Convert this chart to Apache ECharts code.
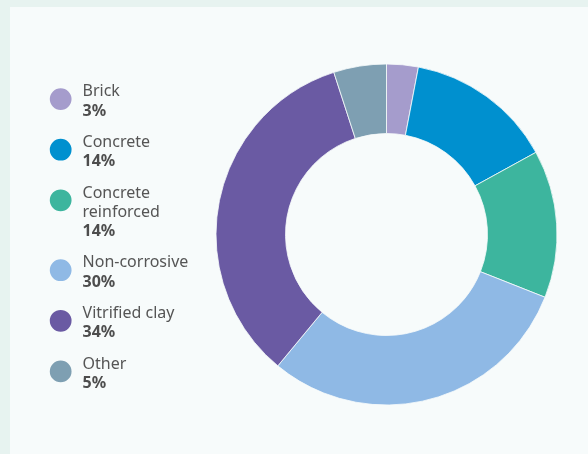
<!DOCTYPE html>
<html><head><meta charset="utf-8">
<script src="https://cdn.jsdelivr.net/npm/echarts@6/dist/echarts.min.js"></script>
<style>html,body{margin:0;padding:0;background:#e7f3f0;} #c{width:588px;height:454px;}</style>
</head><body><div id="c"></div>
<script>
const categories = ['Brick', 'Concrete', 'Concrete reinforced', 'Non-corrosive', 'Vitrified clay', 'Other'];
const shares = [3, 14, 14, 30, 34, 5];
const legendLabels = ['Brick', 'Concrete', 'Concrete\nreinforced', 'Non-corrosive', 'Vitrified clay', 'Other'];
const colors = ['#a59ccc', '#0090cf', '#3db59e', '#8fb9e5', '#6a5aa3', '#7e9fb2'];

const chart = echarts.init(document.getElementById('c'), null, {renderer: 'canvas'});
const LH = 19.3, GAP = 12, FIRST = 91.8, ICON_OFF = 7.3, ICON = 23.75;
const FONT = '"Noto Sans", "Open Sans", sans-serif';
const legends = [];
let y1 = FIRST;
categories.forEach((name, i) => {
  const n = legendLabels[i].split('\n').length + 1;
  const pt = (n - 1) * LH - 2 * ICON_OFF;
  const B = n * LH + pt;
  const iconY = y1 + ICON_OFF;
  legends.push({
    data: [{name: name, icon: 'circle'}],
    orient: 'vertical', left: 47.8, top: iconY - B / 2, padding: 0,
    itemWidth: ICON, itemHeight: ICON, selectedMode: false,
    formatter: () => legendLabels[i] + '\n{p|' + shares[i] + '%}',
    textStyle: {
      color: '#555555', fontSize: 16, fontFamily: FONT, lineHeight: LH,
      padding: [pt, 0, 0, 5], backgroundColor: 'transparent',
      rich: {p: {fontSize: 16, fontFamily: FONT, fontWeight: 'bold', color: '#4d4d4d', lineHeight: LH}}
    }
  });
  y1 += n * LH + GAP;
});

chart.setOption({
  animation: false,
  color: colors,
  graphic: [{type: 'rect', left: 10, top: 7, shape: {width: 578, height: 447}, style: {fill: '#f7fbfb'}, z: -10, silent: true}],
  legend: legends,
  series: [{
    type: 'pie', radius: [101, 170.5], center: [386.5, 234.5],
    startAngle: 90, clockwise: true,
    label: {show: false}, labelLine: {show: false},
    itemStyle: {borderColor: '#f7fbfb', borderWidth: 0.8},
    emphasis: {scale: false},
    data: categories.map((n, i) => ({name: n, value: shares[i]}))
  }]
});
</script></body></html>
